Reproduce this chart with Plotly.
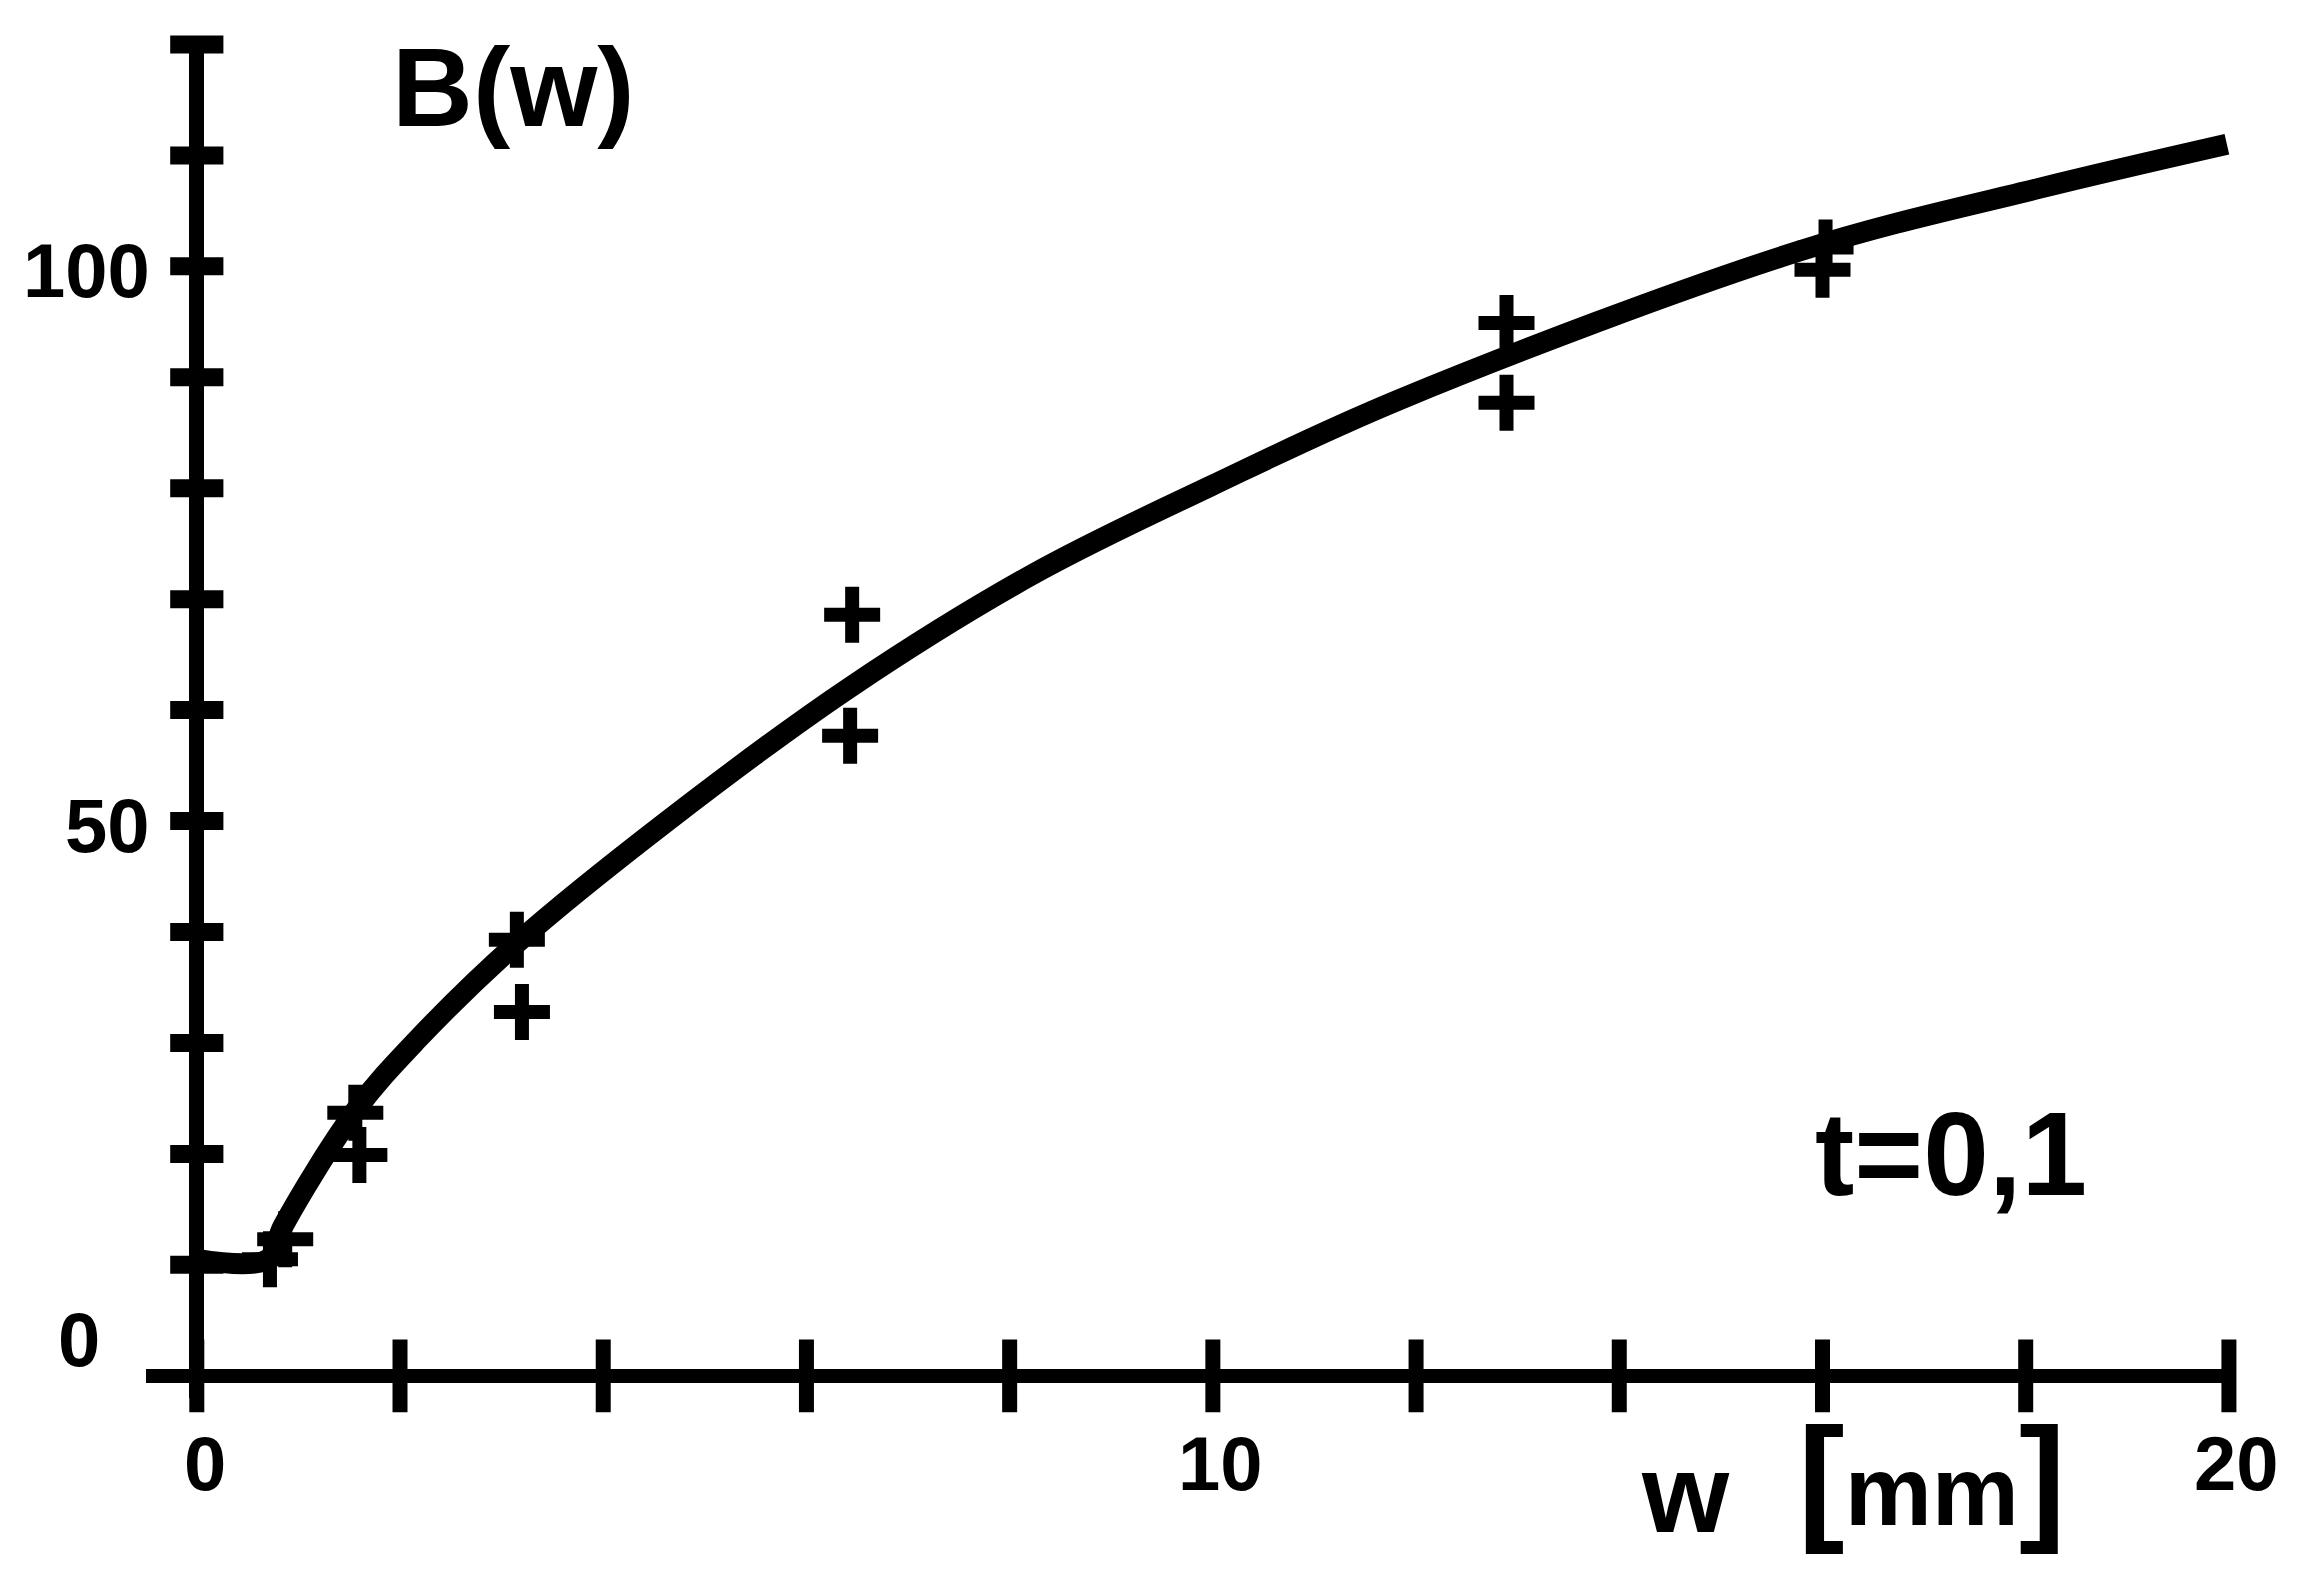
import plotly.graph_objects as go

# ---- data ----
# measured points (two measurements per width)
meas_w = [0.72, 0.87, 1.56, 1.60, 3.15, 3.20, 6.45, 6.43, 12.89, 12.89, 16.03, 16.0, 20.08, 20.08]
meas_B = [10.5, 12.3, 23.7, 19.9, 39.3, 32.8, 68.6, 57.7, 94.9, 87.7, 101.7, 99.7, 114.0, 105.6]

# fitted curve B(w)
curve_w = [0, 0.7, 0.85, 1.57, 2.17, 3.15, 4.63, 6.42, 8.24, 9.98, 11.84, 15.78, 18.12, 19.98]
curve_B = [10.5, 10.5, 13.5, 24.0, 30.3, 39.0, 50.0, 62.0, 72.3, 80.2, 88.0, 101.4, 107.0, 111.0]

# axis ticks and labels
x_ticks = [0, 2, 4, 6, 8, 10, 12, 14, 16, 18, 20]
y_ticks = [10, 20, 30, 40, 50, 60, 70, 80, 90, 100, 110, 120]
x_label_vals = [0, 10, 20]
x_label_text = ["0", "10", "20"]
y_label_vals = [0, 50, 100]
y_label_text = ["0", "50", "100"]

title_text = "B(w)"
param_text = "t=0,1"
x_name = "w"
x_unit = "mm"

FONT = "Liberation Sans, Arial, sans-serif"
INK = "black"

fig = go.Figure()

# curve
fig.add_trace(go.Scatter(
    x=curve_w, y=curve_B, mode="lines",
    line=dict(color=INK, width=21, shape="spline", smoothing=1.0),
    hoverinfo="skip", showlegend=False, cliponaxis=False))

# measurement crosses
fig.add_trace(go.Scatter(
    x=meas_w, y=meas_B, mode="markers",
    marker=dict(symbol="cross-thin", size=40, color=INK,
                line=dict(color=INK, width=14)),
    showlegend=False, cliponaxis=False))

# tick marks crossing the axes
fig.add_trace(go.Scatter(
    x=x_ticks, y=[0] * len(x_ticks), mode="markers",
    marker=dict(symbol="line-ns", size=52, color=INK,
                line=dict(color=INK, width=15)),
    showlegend=False, cliponaxis=False))
fig.add_trace(go.Scatter(
    x=[0] * len(y_ticks), y=y_ticks, mode="markers",
    marker=dict(symbol="line-ew", size=38, color=INK,
                line=dict(color=INK, width=18)),
    showlegend=False, cliponaxis=False))

annotations = []
for v, t in zip(x_label_vals, x_label_text):
    annotations.append(dict(
        x=v, y=0, xref="x", yref="y", text=t, showarrow=False,
        xanchor="center", yanchor="middle", xshift=8, yshift=-88,
        font=dict(family=FONT, size=76, color=INK, weight="bold")))
for v, t in zip(y_label_vals, y_label_text):
    special = (v == 0)
    annotations.append(dict(
        x=0, y=v, xref="x", yref="y", text=t, showarrow=False,
        xanchor="right", yanchor="middle",
        xshift=-95 if special else -45, yshift=36 if special else -4,
        font=dict(family=FONT, size=76, color=INK, weight="bold")))

annotations.append(dict(
    x=3.12, y=116.1, xref="x", yref="y", text=title_text, showarrow=False,
    xanchor="center", yanchor="middle",
    font=dict(family=FONT, size=112, color=INK, weight="bold")))
annotations.append(dict(
    x=17.26, y=20.0, xref="x", yref="y", text=param_text, showarrow=False,
    xanchor="center", yanchor="middle",
    font=dict(family=FONT, size=118, color=INK, weight="bold")))
annotations.append(dict(
    x=14.65, y=-0.07, xref="x", yref="paper", text=x_name, showarrow=False,
    xanchor="center", yanchor="middle",
    font=dict(family=FONT, size=112, color=INK, weight="bold")))
annotations.append(dict(
    x=17.08, y=-0.058, xref="x", yref="paper",
    text='<span style="font-size:140px">[</span>' + x_unit
         + '<span style="font-size:140px">]</span>',
    showarrow=False, xanchor="center", yanchor="middle",
    font=dict(family=FONT, size=98, color=INK, weight="bold")))

fig.update_layout(
    width=2315, height=1573, autosize=False,
    margin=dict(l=146, r=81, t=40, b=175, pad=0),
    paper_bgcolor="white", plot_bgcolor="white",
    xaxis=dict(range=[-0.5, 20.05], showgrid=False, showticklabels=False,
               ticks="", showline=False, zeroline=True, zerolinecolor=INK,
               zerolinewidth=15, fixedrange=True),
    yaxis=dict(range=[-2, 120.4], showgrid=False, showticklabels=False,
               ticks="", showline=False, zeroline=True, zerolinecolor=INK,
               zerolinewidth=14, fixedrange=True),
    annotations=annotations,
    showlegend=False,
)

fig.write_html("out.html")
